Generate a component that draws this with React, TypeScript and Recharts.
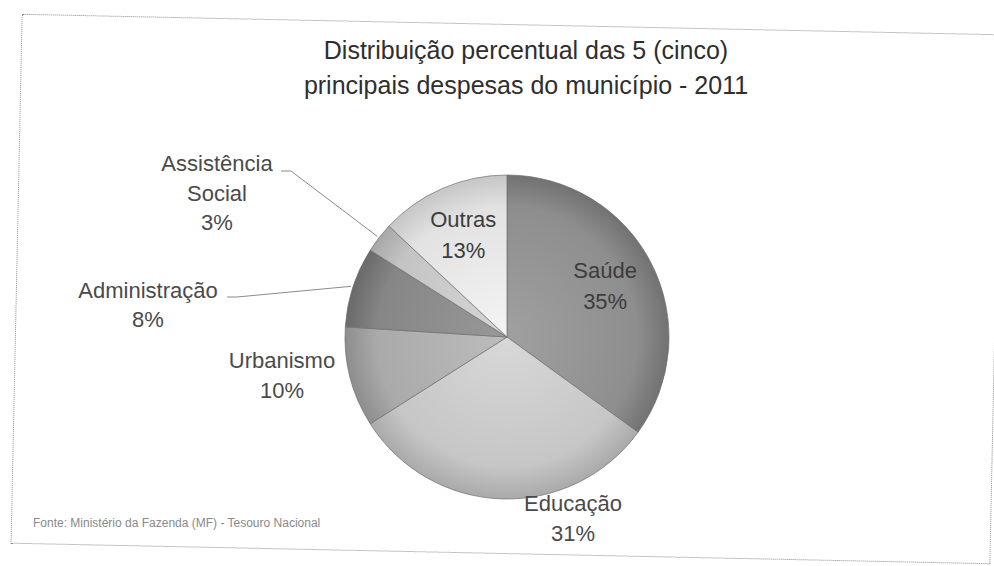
import { PieChart, Pie, Cell } from "recharts"

const categories = ["Saúde", "Educação", "Urbanismo", "Administração", "Assistência Social", "Outras"]
const shares = [35, 31, 10, 8, 3, 13]
const titleLines = ["Distribuição percentual das 5 (cinco)", "principais despesas do município - 2011"]
const sourceNote = "Fonte: Ministério da Fazenda (MF) - Tesouro Nacional"

const SLICE_COLORS = ["#8e8e8e", "#c6c6c6", "#aaaaaa", "#868686", "#c4c4c4", "#e2e2e2"]

const CX = 507
const CY = 337
const R = 162
const RADIAN = Math.PI / 180
const LABEL_FONT = "'Liberation Sans', Arial, sans-serif"

// manual placements (offsets from pie centre) for the labels Excel pushed outside
const OUTSIDE_LABELS: Record<string, { dx: number; lines: string[]; dy: number[]; leader?: [number, number] }> = {
  "Educação": { dx: 66, lines: ["Educação"], dy: [166, 196] },
  Urbanismo: { dx: -225, lines: ["Urbanismo"], dy: [23, 53] },
  "Administração": { dx: -359, lines: ["Administração"], dy: [-47, -18], leader: [-280, -40] },
  "Assistência Social": { dx: -290, lines: ["Assistência", "Social"], dy: [-174, -144, -115], leader: [-226, -166] },
}

const data = categories.map((name, i) => ({ name, value: shares[i] }))

function shade(hex: string, amt: number) {
  const n = parseInt(hex.slice(1), 16)
  const c = (v: number) => Math.max(0, Math.min(255, v + amt))
  const r = c((n >> 16) & 255)
  const g = c((n >> 8) & 255)
  const b = c(n & 255)
  return `rgb(${r},${g},${b})`
}

function renderLabel(props: any) {
  const { cx, cy, midAngle, outerRadius, name, value } = props
  const spot = OUTSIDE_LABELS[name]
  const textProps = {
    fontFamily: LABEL_FONT,
    fontSize: 22,
    fill: "#4a4a4a",
    textAnchor: "middle" as const,
    dominantBaseline: "central" as const,
  }
  if (!spot) {
    const rr = outerRadius * 0.68
    const x = cx + rr * Math.cos(-midAngle * RADIAN)
    const y = cy + rr * Math.sin(-midAngle * RADIAN)
    return (
      <g>
        <text x={x} y={y - 16} {...textProps} fill="#3c3c3c">{name}</text>
        <text x={x} y={y + 15} {...textProps} fill="#3c3c3c">{`${value}%`}</text>
      </g>
    )
  }
  const x = cx + spot.dx
  const lines = [...spot.lines, `${value}%`]
  let leader = null
  if (spot.leader) {
    const ex = cx + (outerRadius + 2) * Math.cos(-midAngle * RADIAN)
    const ey = cy + (outerRadius + 2) * Math.sin(-midAngle * RADIAN)
    const sx = cx + spot.leader[0]
    const sy = cy + spot.leader[1]
    leader = (
      <polyline
        points={`${sx},${sy} ${sx + 10},${sy} ${ex},${ey}`}
        fill="none"
        stroke="#8a8a8a"
        strokeWidth={1}
      />
    )
  }
  return (
    <g>
      {leader}
      {lines.map((t, i) => (
        <text key={i} x={x} y={cy + spot.dy[i]} {...textProps}>
          {t}
        </text>
      ))}
    </g>
  )
}

export default function App() {
  return (
    <div style={{ position: "absolute", left: 0, top: 0, width: 994, height: 566, background: "#fff", overflow: "hidden" }}>
      <div
        style={{
          position: "absolute",
          left: 16,
          top: 24,
          width: 980,
          height: 530,
          border: "1px dotted #8c8c8c",
          transform: "rotate(1.2deg)",
          boxSizing: "border-box",
        }}
      />
      <div
        style={{
          position: "absolute",
          left: 0,
          top: 33,
          width: 1052,
          textAlign: "center",
          fontFamily: LABEL_FONT,
          fontSize: 25,
          lineHeight: "35px",
          color: "#2e2e2e",
        }}
      >
        {titleLines.map((t) => (
          <div key={t}>{t}</div>
        ))}
      </div>
      <div
        style={{
          position: "absolute",
          left: 33,
          top: 516,
          fontFamily: LABEL_FONT,
          fontSize: 12,
          color: "#8a8a8a",
          whiteSpace: "nowrap",
        }}
      >
        {sourceNote}
      </div>
      <div style={{ position: "absolute", left: 0, top: 0 }}>
        <PieChart width={994} height={566} margin={{ top: 0, right: 0, bottom: 0, left: 0 }}>
          <defs>
            {SLICE_COLORS.map((c, i) => (
              <radialGradient key={i} id={`slice-grad-${i}`} gradientUnits="userSpaceOnUse" cx={CX} cy={CY} r={R}>
                <stop offset="0%" stopColor={shade(c, 18)} />
                <stop offset="80%" stopColor={c} />
                <stop offset="100%" stopColor={shade(c, -28)} />
              </radialGradient>
            ))}
          </defs>
          <Pie
            data={data}
            dataKey="value"
            nameKey="name"
            cx={CX}
            cy={CY}
            outerRadius={R}
            startAngle={90}
            endAngle={-270}
            stroke="#6f6f6f"
            strokeWidth={0.7}
            label={renderLabel}
            labelLine={false}
            isAnimationActive={false}
          >
            {data.map((d, i) => (
              <Cell key={d.name} fill={`url(#slice-grad-${i})`} />
            ))}
          </Pie>
        </PieChart>
      </div>
    </div>
  )
}
